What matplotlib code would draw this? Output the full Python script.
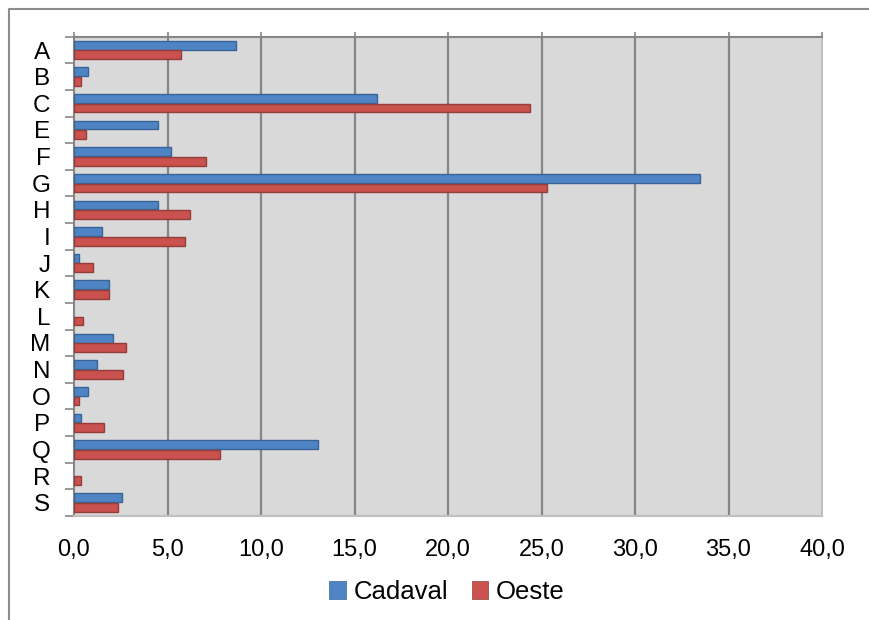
import matplotlib
matplotlib.use("Agg")
import matplotlib.pyplot as plt
from matplotlib.lines import Line2D
from matplotlib.patches import Patch
import numpy as np

categories = ["A", "B", "C", "E", "F", "G", "H", "I", "J", "K", "L", "M",
              "N", "O", "P", "Q", "R", "S"]
cadaval = [8.65, 0.77, 16.2, 4.5, 5.2, 33.5, 4.5, 1.5, 0.27, 1.85, 0.0, 2.1,
           1.25, 0.77, 0.39, 13.05, 0.0, 2.58]
oeste = [5.7, 0.39, 24.4, 0.64, 7.06, 25.3, 6.2, 5.95, 1.0, 1.85, 0.5, 2.8,
         2.6, 0.28, 1.6, 7.8, 0.39, 2.34]
series_names = ["Cadaval", "Oeste"]
xticks = [0, 5, 10, 15, 20, 25, 30, 35, 40]
xtick_labels = ["0,0", "5,0", "10,0", "15,0", "20,0", "25,0", "30,0", "35,0", "40,0"]

plt.rcParams['font.family'] = ['Liberation Sans', 'DejaVu Sans']

W, H = 869, 620
fig = plt.figure(figsize=(W / 100, H / 100), dpi=100)
ax = fig.add_axes([74 / W, 1 - 516 / H, (822 - 74) / W, (516 - 36.7) / H])

blue, blue_edge = "#4F84C4", "#3A6498"
red, red_edge = "#C9514E", "#943D3A"

y = np.arange(len(categories))
h = 0.33
off = 0.18
b1 = ax.barh(y - off, cadaval, height=h, color=blue, edgecolor=blue_edge, linewidth=1.0, zorder=3)
b2 = ax.barh(y + off, oeste, height=h, color=red, edgecolor=red_edge, linewidth=1.0, zorder=3)
for p in list(b1) + list(b2):
    if p.get_width() == 0:
        p.set_visible(False)

ax.set_xlim(0, 40)
ax.set_ylim(len(categories) - 0.5, -0.5)
ax.set_facecolor("#D9D9D9")

ax.set_xticks(xticks)
ax.set_xticklabels(xtick_labels, fontsize=17)
ax.tick_params(axis='x', top=True, bottom=False, labeltop=False, labelbottom=True,
               direction='out', length=3.5, width=1.2, color="#868686", pad=13)
for xv in xticks[1:-1]:
    ax.axvline(xv, color="#868686", lw=1.6, zorder=1)

ax.set_yticks(y)
ax.set_yticklabels(categories, fontsize=17.5)
ax.set_yticks(np.arange(len(categories) + 1) - 0.5, minor=True)
ax.tick_params(axis='y', which='major', length=0, pad=17)
ax.tick_params(axis='y', which='minor', length=6.5, width=1.2, color="#868686", direction='out')

for s in ['left', 'top']:
    ax.spines[s].set_color("#868686")
    ax.spines[s].set_linewidth(1.5)
for s in ['right', 'bottom']:
    ax.spines[s].set_color("#C0C0C0")
    ax.spines[s].set_linewidth(1.5)

handles = [Patch(facecolor=blue, edgecolor=blue_edge, lw=0.5),
           Patch(facecolor=red, edgecolor=red_edge, lw=0.5)]
fig.legend(handles, series_names, loc='center', bbox_to_anchor=(447 / W, 1 - 592 / H),
           ncol=2, frameon=False, fontsize=18.5, handlelength=0.65, handleheight=0.7,
           handletextpad=0.3, columnspacing=0.9)

fx, fy = 9 / W, 1 - 9 / H
fig.add_artist(Line2D([fx, fx, 1.0], [0.0, fy, fy], transform=fig.transFigure,
                      color="#8C8C8C", lw=1.5))

fig.savefig("out.png", dpi=100)
